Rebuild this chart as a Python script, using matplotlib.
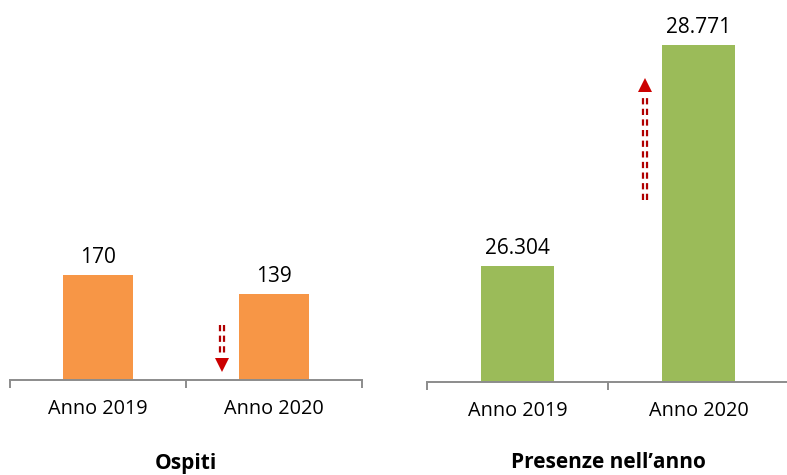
import matplotlib.pyplot as plt
from matplotlib.ticker import FixedLocator

plt.rcParams["font.family"] = ["Open Sans", "DejaVu Sans"]

categories = ["Anno 2019", "Anno 2020"]
ospiti = [170, 139]
presenze = [26304, 28771]


def fmt_it(v):
    return f"{v:,}".replace(",", ".")


def style_axis(ax):
    for s in ["top", "left", "right"]:
        ax.spines[s].set_visible(False)
    ax.spines["bottom"].set_color("#8c8c8c")
    ax.spines["bottom"].set_linewidth(1.4)
    ax.set_yticks([])
    ax.set_xlim(-0.5, 1.5)
    ax.set_xticks(range(len(categories)))
    ax.set_xticklabels(categories, fontsize=14.3)
    ax.tick_params(axis="x", which="major", length=0, pad=14)
    ax.xaxis.set_minor_locator(FixedLocator([-0.5, 0.5, 1.5]))
    ax.tick_params(axis="x", which="minor", length=6, width=1.4, color="#8c8c8c")


def double_arrow(ax, x, y0, y1, head_y, up):
    ax.plot([x, x], [y0, y1], color="#b00000", lw=4.5, ls=(0, (1.0, 0.7)),
            solid_capstyle="butt", dash_capstyle="butt")
    ax.plot([x, x], [y0, y1], color="white", lw=1.3)
    ax.plot([x], [head_y], marker="^" if up else "v", color="#cc0000",
            markersize=10, markeredgewidth=0)


fig = plt.figure(figsize=(7.87, 4.75), dpi=100)

# Ospiti
ax1 = fig.add_axes([10 / 787, 95 / 475, 352 / 787, 360 / 475])
ax1.bar(range(len(ospiti)), ospiti, width=0.4, color="#f79646")
ax1.set_ylim(0, 582)
style_axis(ax1)
for i, v in enumerate(ospiti):
    ax1.annotate(fmt_it(v), (i, v), xytext=(0, 5), textcoords="offset points",
                 ha="center", va="bottom", fontsize=15)
double_arrow(ax1, 0.705, 89, 38, 24, up=False)

# Presenze
ax2 = fig.add_axes([427 / 787, 93 / 475, 362 / 787, 362 / 475])
ax2.bar(range(len(presenze)), presenze, width=0.4, color="#9bbb59")
ax2.set_ylim(25009, 29049)
style_axis(ax2)
for i, v in enumerate(presenze):
    ax2.annotate(fmt_it(v), (i, v), xytext=(0, 5), textcoords="offset points",
                 ha="center", va="bottom", fontsize=15)
double_arrow(ax2, 0.704, 27040, 28200, 28320, up=True)

fig.text(186 / 787, 12 / 475, "Ospiti", ha="center", va="center",
         fontsize=15, fontweight="bold")
fig.text(608 / 787, 12 / 475, "Presenze nell\u2019anno", ha="center", va="center",
         fontsize=15, fontweight="bold")

fig.savefig("out.png", dpi=100)
